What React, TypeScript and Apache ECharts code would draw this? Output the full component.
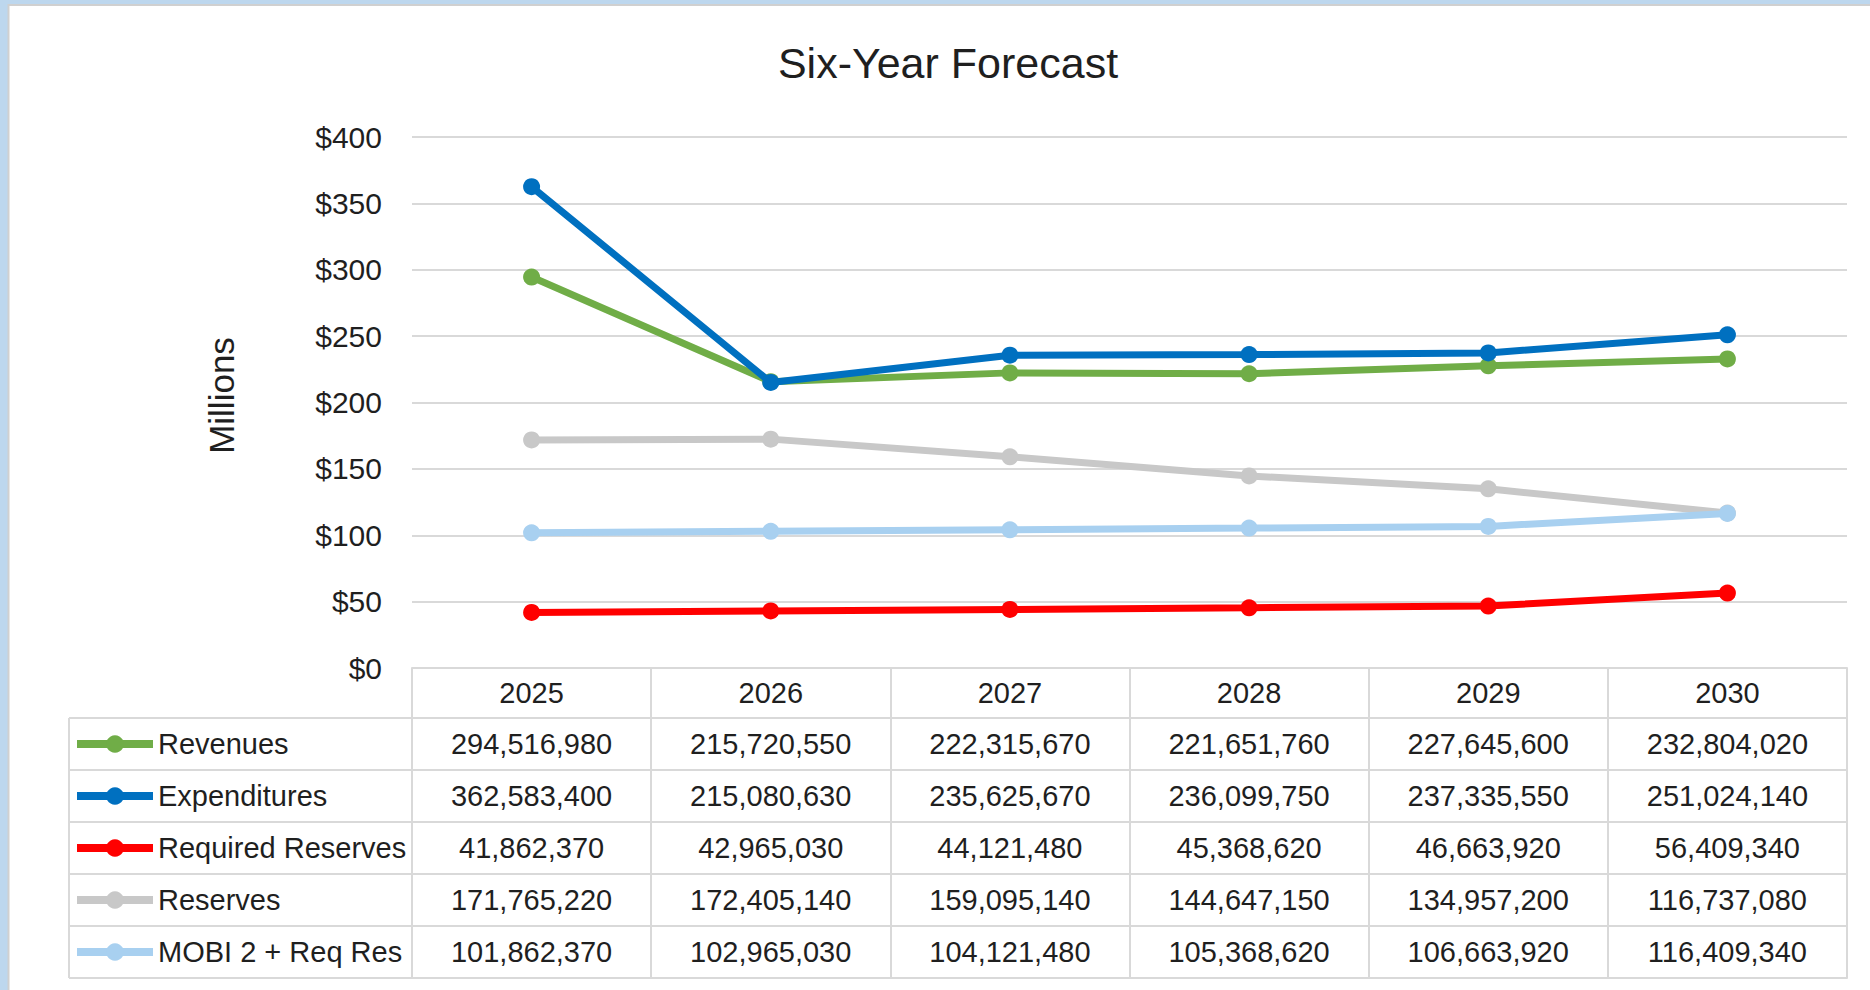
import React, { useEffect, useRef } from "react";
import * as echarts from "echarts";

// ---- data ----
const years = ["2025", "2026", "2027", "2028", "2029", "2030"];
const seriesNames = ["Revenues", "Expenditures", "Required Reserves", "Reserves", "MOBI 2 + Req Res"];
const revenues = [294516980, 215720550, 222315670, 221651760, 227645600, 232804020];
const expenditures = [362583400, 215080630, 235625670, 236099750, 237335550, 251024140];
const requiredReserves = [41862370, 42965030, 44121480, 45368620, 46663920, 56409340];
const reserves = [171765220, 172405140, 159095140, 144647150, 134957200, 116737080];
const mobiReqRes = [101862370, 102965030, 104121480, 105368620, 106663920, 116409340];
const yMin = 0;
const yMax = 400;
const yStep = 50;
const unitDivisor = 1000000;

// ---- styling / layout ----
const seriesColors = ["#70AD47", "#0070C0", "#FF0000", "#C8C8C8", "#A8D0F0"];
const FONT = "Liberation Sans";
const TEXT = "#1f1f1f";
const GRID = "#D9D9D9";
const W = 1870;
const H = 990;
const plotL = 412;
const plotR = 1847;
const plotT = 137;
const plotB = 668;
const headerH = 50;
const rowH = 52;
const tableL = 69;

const fmt = (v: number) => String(v).replace(/\B(?=(\d{3})+(?!\d))/g, ",");

export default function App() {
  const ref = useRef<HTMLDivElement>(null);
  useEffect(() => {
    document.body.style.margin = "0";
    if (!ref.current) return;
    const chart = echarts.init(ref.current, null, { renderer: "svg" });
    const rows = [revenues, expenditures, requiredReserves, reserves, mobiReqRes];
    const lineStyle = { color: GRID, width: 2 };

    const xAxes: any[] = [
      {
        type: "category",
        data: years,
        gridIndex: 0,
        position: "bottom",
        axisLine: { show: true, lineStyle },
        axisTick: { show: true, interval: 0, length: headerH, lineStyle },
        axisLabel: {
          interval: 0,
          margin: headerH / 2,
          verticalAlign: "middle",
          fontSize: 29,
          fontFamily: FONT,
          color: TEXT,
        },
      },
    ];
    rows.forEach((row, k) => {
      xAxes.push({
        type: "category",
        data: years,
        gridIndex: 0,
        position: "bottom",
        offset: headerH + rowH * k,
        axisLine: { show: true, lineStyle },
        axisTick: { show: true, interval: 0, length: rowH, lineStyle },
        axisLabel: {
          interval: 0,
          margin: rowH / 2,
          verticalAlign: "middle",
          fontSize: 29,
          fontFamily: FONT,
          color: TEXT,
          formatter: (_v: string, i: number) => fmt(row[i]),
        },
      });
    });
    xAxes.push({
      type: "category",
      data: years,
      gridIndex: 0,
      position: "bottom",
      offset: headerH + rowH * rows.length,
      axisLine: { show: true, lineStyle },
      axisTick: { show: false },
      axisLabel: { show: false },
    });

    const graphics: any[] = [
      { type: "rect", shape: { x: 0, y: 0, width: 8, height: H }, style: { fill: "#BDD7EE" }, silent: true },
      { type: "rect", shape: { x: 0, y: 0, width: W, height: 4 }, style: { fill: "#BDD7EE" }, silent: true },
      { type: "line", shape: { x1: 8.5, y1: 4, x2: 8.5, y2: H }, style: { stroke: "#D0D0D0", lineWidth: 2 }, silent: true },
      { type: "line", shape: { x1: 8, y1: 5, x2: W, y2: 5 }, style: { stroke: "#D0D0D0", lineWidth: 2 }, silent: true },
      {
        type: "line",
        shape: { x1: tableL, y1: plotB + headerH, x2: tableL, y2: plotB + headerH + rowH * rows.length },
        style: { stroke: GRID, lineWidth: 2 },
        silent: true,
      },
    ];
    for (let k = 0; k <= rows.length; k++) {
      const y = plotB + headerH + rowH * k;
      graphics.push({
        type: "line",
        shape: { x1: tableL, y1: y, x2: plotL, y2: y },
        style: { stroke: GRID, lineWidth: 2 },
        silent: true,
      });
    }

    chart.setOption({
      animation: false,
      backgroundColor: "#ffffff",
      title: {
        text: "Six-Year Forecast",
        left: 943,
        textAlign: "center",
        top: 36,
        textStyle: { fontSize: 43, fontWeight: "normal", fontFamily: FONT, color: TEXT },
      },
      grid: {
        left: plotL,
        right: W - plotR,
        top: plotT,
        bottom: H - plotB,
        containLabel: false,
        outerBoundsMode: "none",
      },
      legend: {
        orient: "vertical",
        left: tableL - 1,
        top: plotB + headerH + 6,
        itemWidth: 76,
        itemHeight: 22,
        itemGap: 22,
        selectedMode: false,
        data: seriesNames,
        lineStyle: { width: 8 },
        textStyle: { fontSize: 29, lineHeight: 30, fontFamily: FONT, color: TEXT },
      },
      xAxis: xAxes,
      yAxis: {
        type: "value",
        min: yMin,
        max: yMax,
        interval: yStep,
        name: "Millions",
        nameLocation: "middle",
        nameRotate: 90,
        nameGap: 173,
        nameTextStyle: { fontSize: 35, fontFamily: FONT, color: TEXT, padding: [0, 0, 0, 14] },
        axisLine: { show: false },
        axisTick: { show: false },
        axisLabel: {
          margin: 30,
          fontSize: 30,
          fontFamily: FONT,
          color: TEXT,
          formatter: (v: number) => "$" + v,
        },
        splitLine: { show: true, lineStyle },
      },
      series: rows.map((row, k) => ({
        name: seriesNames[k],
        type: "line",
        xAxisIndex: 0,
        yAxisIndex: 0,
        data: row.map((v) => v / unitDivisor),
        symbol: "circle",
        symbolSize: 17,
        showSymbol: true,
        lineStyle: { width: 7, color: seriesColors[k] },
        itemStyle: { color: seriesColors[k] },
        z: 2 + k,
      })),
      graphic: graphics,
    });
    return () => chart.dispose();
  }, []);
  return <div ref={ref} style={{ width: W, height: H }} />;
}
